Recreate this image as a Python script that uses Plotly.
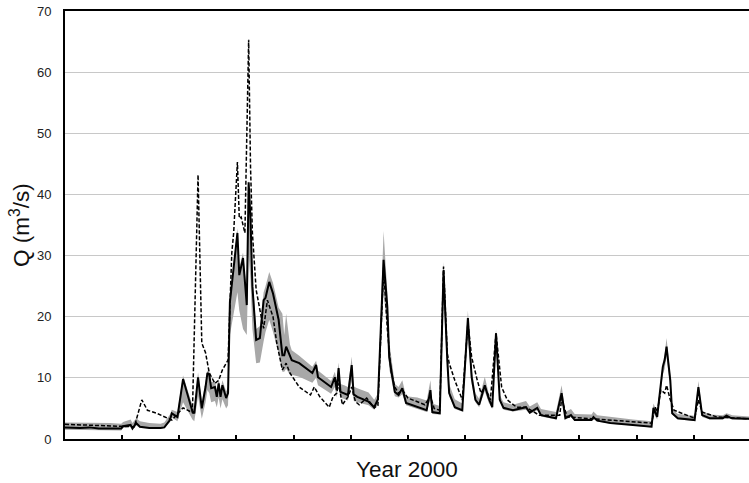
import plotly.graph_objects as go

# Day of year 2000 (0 = 1 Jan) and discharge values
sim_day = [0, 8, 13, 18, 24, 30, 31, 35, 36, 38, 40, 45, 51, 53, 56, 57, 60, 63, 68, 69,
           71, 73, 75, 76, 77, 78, 80, 81, 82, 83, 84, 86, 87, 88, 92, 93, 95, 97, 98, 99,
           100, 102, 104, 106, 107, 109, 111, 114, 116, 117, 118, 120, 121, 125, 132, 134, 135, 142, 144, 145,
           146, 147, 149, 151, 153, 154, 156, 162, 165, 167, 170, 172, 173, 176, 178, 180, 182, 188, 193, 195,
           196, 200, 202, 204, 205, 208, 212, 215, 217, 219, 221, 224, 226, 228, 230, 232, 234, 239, 246, 248,
           252, 254, 262, 265, 267, 270, 272, 281, 282, 284, 291, 303, 313, 314, 316, 317, 319, 320, 321, 323,
           324, 327, 336, 337, 338, 340, 344, 351, 353, 355, 356, 365]
sim_q = [1.9, 1.8, 1.9, 1.7, 1.7, 1.7, 2.1, 2.3, 1.7, 2.6, 2.0, 1.8, 1.8, 1.9, 3.1, 4.2, 3.6, 9.8, 4.5, 4.2,
         10.1, 5.0, 8.5, 10.8, 10.5, 8.3, 8.5, 6.9, 9.1, 6.9, 8.8, 6.7, 7.5, 22.4, 33.7, 26.8, 29.6, 21.9, 42.0, 36.0,
         25.0, 16.2, 16.5, 22.7, 23.1, 25.7, 23.8, 19.5, 13.7, 13.7, 15.1, 13.4, 12.9, 12.4, 10.8, 12.1, 10.1, 8.5, 10.1, 8.0,
         11.6, 7.7, 7.5, 7.2, 12.1, 7.3, 6.9, 6.1, 5.2, 6.5, 29.3, 21.6, 13.4, 7.7, 7.2, 8.3, 5.9, 5.2, 4.7, 8.0,
         4.4, 4.2, 27.6, 12.9, 7.5, 5.2, 4.7, 19.8, 10.1, 6.4, 5.6, 8.8, 6.7, 5.2, 17.3, 6.4, 5.1, 4.7, 5.2, 4.3,
         5.1, 3.9, 3.4, 7.5, 3.4, 3.9, 3.1, 3.1, 3.6, 3.0, 2.6, 2.3, 2.0, 5.1, 3.6, 6.4, 11.8, 12.9, 15.1, 9.6,
         4.2, 3.4, 3.1, 5.9, 8.5, 3.9, 3.4, 3.4, 3.8, 3.5, 3.4, 3.3]
band_lo = [1.5, 1.5, 1.5, 1.4, 1.4, 1.4, 1.8, 2.0, 1.6, 2.2, 1.8, 1.7, 1.7, 1.8, 2.8, 3.5, 2.9, 6.0, 3.2, 2.9,
           7.0, 3.3, 6.0, 8.0, 7.5, 6.0, 6.2, 5.2, 6.8, 5.0, 6.5, 5.0, 5.5, 17.0, 24.0, 21.0, 18.0, 17.0, 30.0, 26.0,
           18.0, 12.4, 12.5, 16.0, 17.5, 19.5, 17.5, 14.0, 11.0, 11.0, 11.5, 10.5, 10.5, 10.2, 9.2, 10.0, 8.8, 7.4, 8.5, 6.8,
           9.0, 6.8, 6.6, 6.3, 9.5, 6.3, 6.0, 5.5, 4.8, 5.5, 24.0, 18.0, 11.5, 7.0, 6.8, 7.3, 5.5, 4.9, 4.4, 6.5,
           4.1, 4.0, 23.0, 11.5, 7.0, 4.9, 4.5, 16.5, 9.0, 6.0, 5.2, 7.8, 6.0, 4.9, 15.0, 6.0, 4.8, 4.5, 4.8, 4.1,
           4.7, 3.7, 3.2, 6.5, 3.2, 3.6, 3.0, 3.0, 3.3, 2.9, 2.5, 2.2, 1.9, 4.2, 3.2, 5.5, 10.5, 11.5, 13.5, 8.5,
           4.0, 3.2, 3.0, 5.2, 7.6, 3.6, 3.2, 3.2, 3.5, 3.3, 3.2, 3.1]
band_hi = [2.7, 2.7, 2.7, 2.6, 2.6, 2.5, 2.8, 3.2, 2.6, 3.4, 2.9, 2.6, 2.5, 2.7, 4.0, 4.8, 4.4, 10.4, 5.5, 5.0,
           10.9, 6.0, 9.5, 11.2, 11.0, 9.3, 9.5, 8.0, 9.9, 8.0, 9.6, 7.8, 8.5, 23.0, 34.5, 28.0, 30.5, 24.0, 42.5, 37.0,
           27.0, 18.0, 18.5, 24.0, 25.0, 27.3, 25.5, 21.5, 20.5, 17.0, 20.5, 15.5, 14.5, 13.6, 11.8, 12.8, 11.2, 9.5, 11.0, 9.5,
           12.5, 9.0, 8.8, 8.5, 13.5, 8.6, 8.3, 7.6, 6.4, 7.5, 34.0, 24.0, 16.0, 9.0, 8.5, 9.6, 7.0, 6.8, 6.3, 9.6,
           5.8, 5.4, 29.0, 14.5, 9.0, 6.5, 5.8, 21.0, 11.5, 7.5, 6.6, 10.2, 7.6, 6.2, 18.0, 7.2, 6.0, 5.6, 6.2, 5.3,
           6.0, 4.9, 4.4, 8.8, 4.4, 4.9, 4.1, 4.0, 4.5, 3.9, 3.6, 3.2, 2.9, 5.8, 4.4, 7.0, 12.5, 13.8, 16.5, 10.5,
           5.0, 4.1, 3.8, 6.6, 9.5, 4.6, 4.0, 3.9, 4.2, 4.0, 3.9, 3.7]

obs_day = [0, 10, 20, 30, 37, 41, 44, 49, 55, 57, 63, 68, 71, 73, 75, 77, 80, 82, 84, 87,
           89, 90, 92, 93, 94, 96, 98, 99, 100, 102, 105, 106, 108, 111, 113, 116, 118, 120, 125, 131,
           133, 136, 141, 143, 145, 146, 148, 151, 153, 155, 157, 161, 165, 167, 170, 172, 174, 176, 178, 180,
           183, 192, 195, 197, 200, 202, 204, 205, 208, 212, 215, 217, 220, 222, 224, 227, 230, 233, 236, 241,
           246, 253, 264, 265, 268, 290, 303, 313, 315, 316, 318, 320, 321, 323, 325, 332, 336, 338, 340, 348,
           365]
obs_q = [2.4, 2.3, 2.2, 2.1, 2.0, 6.4, 4.7, 4.2, 3.4, 3.1, 5.1, 4.3, 43.2, 15.7, 14.1, 10.8, 9.1, 9.6, 11.3, 12.9,
         30.4, 33.7, 45.3, 36.1, 36.3, 33.7, 65.3, 44.5, 33.7, 24.4, 19.5, 18.1, 22.7, 20.0, 15.7, 11.3, 12.4, 10.8, 8.5, 7.2,
         8.5, 6.9, 5.2, 6.9, 7.5, 9.1, 5.6, 6.9, 8.5, 6.1, 5.6, 6.7, 5.1, 5.5, 28.0, 18.0, 11.0, 8.5, 7.5, 8.0,
         6.7, 5.6, 7.0, 5.0, 4.7, 28.2, 14.0, 12.4, 9.6, 6.4, 19.0, 13.4, 9.6, 7.5, 8.5, 6.4, 17.3, 8.5, 6.4, 5.2,
         5.2, 3.9, 3.9, 6.5, 3.6, 3.1, 2.8, 2.6, 5.2, 4.4, 8.0, 7.5, 8.8, 6.4, 4.7, 3.9, 3.4, 6.4, 4.4, 3.6,
         3.3]

month_ticks = [30.5 * k for k in range(1, 12)]
y_ticks = [0, 10, 20, 30, 40, 50, 60, 70]

fig = go.Figure()
fig.add_trace(go.Scatter(x=sim_day, y=band_lo, mode="lines", line=dict(width=0, color="rgba(0,0,0,0)"),
                         showlegend=False, hoverinfo="skip"))
fig.add_trace(go.Scatter(x=sim_day, y=band_hi, mode="lines", line=dict(width=0, color="rgba(0,0,0,0)"),
                         fill="tonexty", fillcolor="rgb(168,168,168)", showlegend=False, hoverinfo="skip"))
fig.add_trace(go.Scatter(x=sim_day, y=sim_q, mode="lines", line=dict(color="black", width=2),
                         showlegend=False))
fig.add_trace(go.Scatter(x=obs_day, y=obs_q, mode="lines", line=dict(color="black", width=1.5, dash="4px,2px"),
                         showlegend=False))

fig.update_layout(
    width=749, height=483,
    margin=dict(l=65, r=0, t=11, b=44),
    paper_bgcolor="white", plot_bgcolor="white",
    font=dict(family="Liberation Sans, Arial, sans-serif", color="#222"),
    showlegend=False,
    annotations=[dict(text="Q (m<sup>3</sup>/s)", xref="paper", yref="paper", x=0, y=0.5,
                      xanchor="center", yanchor="middle", xshift=-45, textangle=-90,
                      showarrow=False, font=dict(size=22.5, color="#111"))],
)
fig.update_xaxes(
    range=[0, 365], showgrid=False, zeroline=False, automargin=False,
    showline=True, linecolor="black", linewidth=2, mirror=True,
    ticks="inside", tickvals=month_ticks, ticklen=4, tickwidth=2, tickcolor="black",
    showticklabels=False,
    title=dict(text="Year 2000", font=dict(size=22.5, color="#111"), standoff=21),
)
fig.update_yaxes(
    range=[0, 70], tickvals=y_ticks, showgrid=True, gridcolor="#c8c8c8", gridwidth=1,
    zeroline=False, showline=True, linecolor="black", linewidth=2, automargin=False,
    ticks="", ticklabelstandoff=9, ticklabeloverflow="allow", tickfont=dict(size=13, color="#222"),
)

# remove the page's default 8px body margin so the figure fills the window exactly
fig.write_html("out.html", config={"displayModeBar": False},
               post_script="document.body.style.margin='0';")
